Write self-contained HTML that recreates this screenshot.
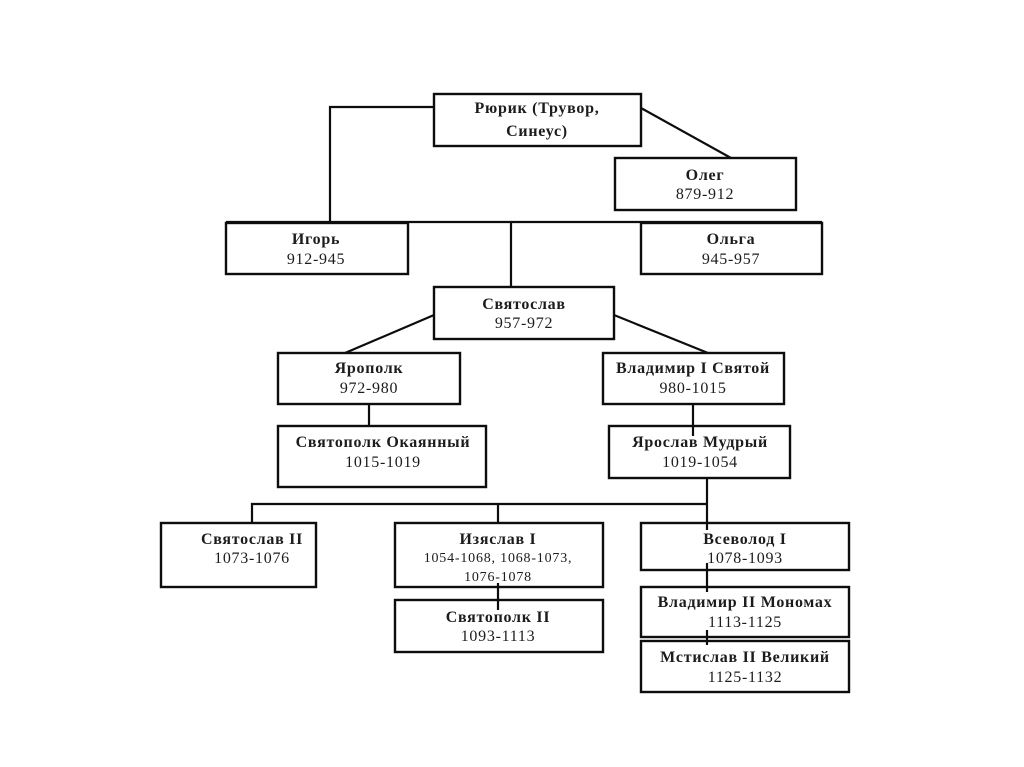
<!DOCTYPE html>
<html><head><meta charset="utf-8"><style>
html,body{margin:0;padding:0;background:#fff}
svg{display:block}
text{font-family:"Liberation Serif","DejaVu Serif",serif;font-size:16px;letter-spacing:.72px;fill:#1c1c1c;text-anchor:middle}
.b{font-weight:bold}
.s{font-size:14px;letter-spacing:.8px}
rect{fill:#fff;stroke:#111;stroke-width:2.4}
line,polyline{stroke:#111;stroke-width:2.2;fill:none}
</style></head><body>
<svg width="1024" height="767" viewBox="0 0 1024 767" xmlns="http://www.w3.org/2000/svg">
<defs><filter id="f" filterUnits="userSpaceOnUse" x="0" y="0" width="1024" height="767"><feGaussianBlur stdDeviation="0.35"/></filter></defs>
<g filter="url(#f)">
<rect x="434" y="94" width="207" height="52"/>
<rect x="615" y="158" width="181" height="52"/>
<rect x="226" y="223" width="182" height="51"/>
<rect x="641" y="223" width="181" height="51"/>
<rect x="434" y="287" width="180" height="52"/>
<rect x="278" y="353" width="182" height="51"/>
<rect x="603" y="353" width="181" height="51"/>
<rect x="278" y="426" width="208" height="61"/>
<rect x="609" y="426" width="181" height="52"/>
<rect x="161" y="523" width="155" height="64"/>
<rect x="395" y="523" width="208" height="64"/>
<rect x="641" y="523" width="208" height="47"/>
<rect x="395" y="600" width="208" height="52"/>
<rect x="641" y="587" width="208" height="50"/>
<rect x="641" y="641" width="208" height="51"/>

<polyline points="434,107 330,107 330,223"/>
<line x1="641" y1="108" x2="731" y2="158"/>
<line x1="226" y1="222" x2="822" y2="222"/>
<line x1="511" y1="222" x2="511" y2="287"/>
<line x1="434" y1="315" x2="345" y2="353"/>
<line x1="614" y1="315" x2="708" y2="353"/>
<line x1="369" y1="404" x2="369" y2="426"/>
<line x1="693" y1="404" x2="693" y2="436"/>
<line x1="707" y1="478" x2="707" y2="523"/>
<polyline points="252,523 252,504 707,504"/>
<line x1="498" y1="504" x2="498" y2="523"/>
<line x1="498" y1="583" x2="498" y2="610"/>
<line x1="707" y1="523" x2="707" y2="530"/>
<line x1="707" y1="563" x2="707" y2="592"/>
<line x1="707" y1="630" x2="707" y2="645"/>

<text class="b" x="537" y="113">Рюрик (Трувор,</text>
<text class="b" x="537" y="136">Синеус)</text>
<text class="b" x="705" y="180">Олег</text>
<text x="705" y="199">879-912</text>
<text class="b" x="316" y="244">Игорь</text>
<text x="316" y="264">912-945</text>
<text class="b" x="731" y="244">Ольга</text>
<text x="731" y="264">945-957</text>
<text class="b" x="524" y="309">Святослав</text>
<text x="524" y="328">957-972</text>
<text class="b" x="369" y="373">Ярополк</text>
<text x="369" y="393">972-980</text>
<text class="b" x="693" y="373">Владимир I Святой</text>
<text x="693" y="393">980-1015</text>
<text class="b" x="383" y="447">Святополк Окаянный</text>
<text x="383" y="467">1015-1019</text>
<text class="b" x="700" y="447">Ярослав Мудрый</text>
<text x="700" y="467">1019-1054</text>
<text class="b" x="252" y="544">Святослав II</text>
<text x="252" y="563">1073-1076</text>
<text class="b" x="498" y="544">Изяслав I</text>
<text class="s" x="498" y="562">1054-1068, 1068-1073,</text>
<text class="s" x="498" y="581">1076-1078</text>
<text class="b" x="498" y="622">Святополк II</text>
<text x="498" y="641">1093-1113</text>
<text class="b" x="745" y="544">Всеволод I</text>
<text x="745" y="563">1078-1093</text>
<text class="b" x="745" y="607">Владимир II Мономах</text>
<text x="745" y="627">1113-1125</text>
<text class="b" x="745" y="662">Мстислав II Великий</text>
<text x="745" y="682">1125-1132</text>
</g>
</svg>
</body></html>
